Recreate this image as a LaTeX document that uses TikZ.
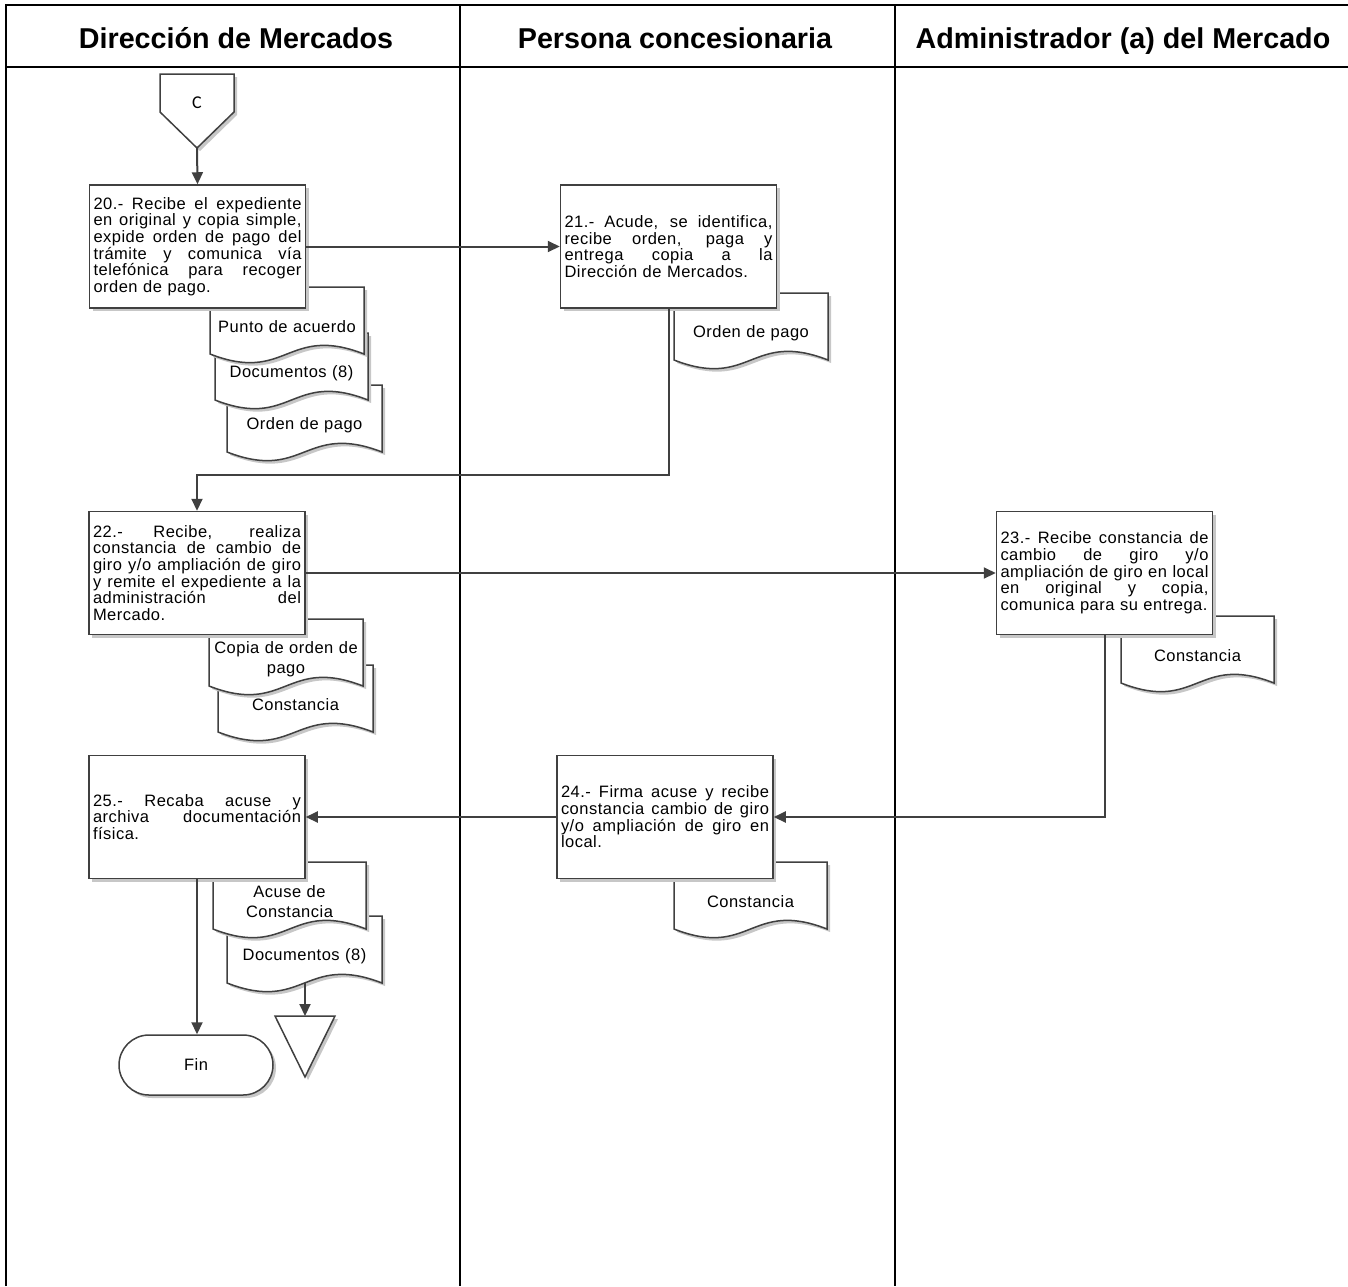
\documentclass[tikz,border=0pt]{standalone}
\usepackage{fontspec}
\setmainfont{Liberation Sans}
\newfontfamily\bodyfont{Liberation Sans}[LetterSpace=3]
\newfontfamily\cfont{Carlito}
\usetikzlibrary{arrows.meta,shadows}
\definecolor{linec}{HTML}{404040}
\newlength\boxtw \setlength\boxtw{208pt}
\newcommand{\jl}[1]{{\spaceskip=0.22em plus 1fil minus 0.08em\relax\makebox[\boxtw][s]{#1}}\\}
\newcommand{\docshape}[5]{%
  \path[docsty] (#2,#3) -- ({#2+#4},#3) -- ({#2+#4},{#3+67})
    .. controls ({#2+0.5*#4},{#3+37}) and ({#2+0.5*#4},{#3+97}) .. (#2,{#3+67}) -- cycle;
  \node[doctext] (#1) at ({#2+0.5*#4},{#3+40}) {#5};
}
\tikzset{
  frame/.style={draw=black, line width=2.2pt},
  shad/.style={drop shadow={shadow xshift=3pt, shadow yshift=-3pt, fill=black!22, opacity=1}},
  docsty/.style={draw=linec, fill=white, line width=1.5pt, shad},
  doctext/.style={font=\bodyfont\fontsize{16.5}{20}\selectfont, text width=152pt, align=center, inner sep=0pt},
  procbox/.style={draw=linec, fill=white, line width=1.5pt, shad, minimum width=216pt, minimum height=123pt,
     inner xsep=4pt, inner ysep=0pt, text width=\boxtw, align=left, font=\bodyfont\fontsize{16.5}{16.7}\selectfont},
  headtext/.style={font=\bfseries\fontsize{28.7}{34}\selectfont, anchor=base, inner sep=0pt},
  flow/.style={draw=linec, line width=2pt, -{Triangle[length=12pt,width=11pt]}},
  termsty/.style={draw=linec, fill=white, line width=1.5pt, shad, rounded corners=30pt, minimum width=154pt, minimum height=60pt,
     font=\bodyfont\fontsize{16.5}{18}\selectfont}
}
\begin{document}
\begin{tikzpicture}[x=1pt,y=-1pt]
\useasboundingbox (0,0) rectangle (1348,1286);
% frame
\draw[frame] (6,1286) -- (6,5) -- (1348,5);
\draw[frame] (6,67) -- (1348,67);
\draw[frame] (460,5) -- (460,1286);
\draw[frame] (895,5) -- (895,1286);
\node[headtext] (h1) at (236,48) {Dirección de Mercados};
\node[headtext] (h2) at (675,48) {Persona concesionaria};
\node[headtext] (h3) at (1123,48) {Administrador (a) del Mercado};

% connector C
\path[docsty] (160,74) -- (234,74) -- (234,112) -- (197,148) -- (160,112) -- cycle;
\node[font=\cfont\fontsize{18}{20}\selectfont] (cC) at (197,103) {C};
\coordinate (ctip) at (197,148);

% step 20
\docshape{dO1}{227}{385}{155}{Orden de pago}
\docshape{dD1}{215}{333}{153}{Documentos (8)}
\docshape{dP}{210}{287}{154}{Punto de acuerdo}
\node[procbox] (b20) at (197.5,246.5) {\jl{20.- Recibe el expediente}\jl{en original y copia simple,}\jl{expide orden de pago del}\jl{trámite y comunica vía}\jl{telefónica para recoger}orden de pago.};

% step 21
\docshape{dO2}{674}{293}{154}{Orden de pago}
\node[procbox] (b21) at (668.5,246.5) {\jl{21.- Acude, se identifica,}\jl{recibe orden, paga y}\jl{entrega copia a la}Dirección de Mercados.};

% step 22
\docshape{dC2}{218}{665}{155}{Constancia}
\docshape{dC1}{209}{619}{154}{Copia de orden de\\pago}
\node[procbox] (b22) at (197,573) {\jl{22.- Recibe, realiza}\jl{constancia de cambio de}\jl{giro y/o ampliación de giro}\jl{y remite el expediente a la}\jl{administración del}Mercado.};

% step 23
\docshape{dC3}{1121}{616}{153}{Constancia}
\node[procbox] (b23) at (1104.5,573) {\jl{23.- Recibe constancia de}\jl{cambio de giro y/o}\jl{ampliación de giro en local}\jl{en original y copia,}comunica para su entrega.};

% step 24
\docshape{dC4}{674}{862}{153}{Constancia}
\node[procbox] (b24) at (665,817) {\jl{24.- Firma acuse y recibe}\jl{constancia cambio de giro}\jl{y/o ampliación de giro en}local.};

% step 25
\docshape{dD2}{227}{916}{155}{Documentos (8)}
\docshape{dA}{213}{862}{153}{Acuse de\\Constancia}
\node[procbox] (b25) at (197,817) {\jl{25.- Recaba acuse y}\jl{archiva documentación}física.};

% end
\node[termsty] (fin) at (196,1065) {Fin};
\path[docsty] (275,1016) -- (335,1016) -- (305,1077) -- cycle;
\coordinate (ttop) at (305,1016);
\coordinate (dD2b) at (305,983);

% connectors
\coordinate (j1) at (668.5,475);
\coordinate (j2) at (1104.5,817);
\draw[flow] (ctip) -- (b20.north);
\draw[flow] (b20.east) -- (b21.west);
\draw[flow] (b21.south) -- (j1) -| (b22.north);
\draw[flow] (b22.east) -- (b23.west);
\draw[flow] (b23.south) -- (j2) -- (b24.east);
\draw[flow] (b24.west) -- (b25.east);
\draw[flow] (b25.south) -- (b25.south |- fin.north);
\draw[flow] (dD2b) -- (ttop);
\end{tikzpicture}
\end{document}
